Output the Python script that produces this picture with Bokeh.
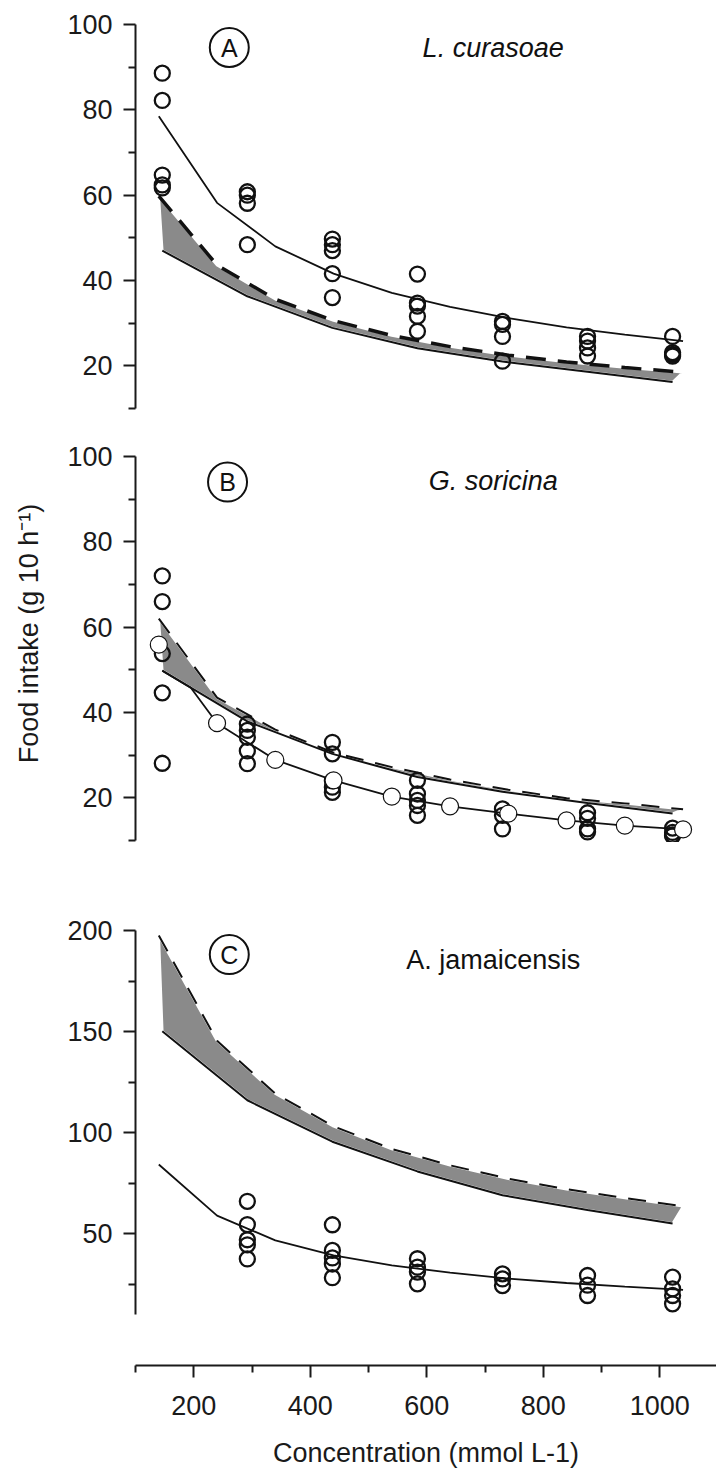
from bokeh.plotting import figure
from bokeh.models import Range1d, FixedTicker, Label
from bokeh.layouts import column
from bokeh.embed import file_html
from bokeh.resources import INLINE

FONT = "Liberation Sans"

# ---------------- data ----------------
conc = [146, 292, 438, 584, 730, 876, 1022]          # measured concentrations
grid_x = [140, 240, 340, 440, 540, 640, 740, 840, 940, 1040]  # curve sample points

# Panel A  (L. curasoae)
a_obs = [[88.6, 82.2, 64.7, 62.4, 61.7],
         [60.8, 60.0, 58.1, 48.4],
         [49.7, 48.4, 47.0, 41.6, 36.0],
         [41.5, 34.7, 34.0, 31.6, 28.1],
         [30.4, 29.7, 26.9, 21.1],
         [26.9, 25.8, 24.2, 22.3],
         [26.9, 23.1, 22.7, 22.3]]
a_fit = [78.5, 58.2, 48.0, 41.6, 37.1, 33.8, 31.2, 29.0, 27.3, 25.8]
a_dash = [59.8, 43.6, 35.6, 30.6, 27.1, 24.5, 22.5, 20.9, 19.6, 18.5]
a_low = [47.0, 36.3, 28.9, 24.1, 21.0, 18.6, 16.2]

# Panel B  (G. soricina)
b_obs = [[72.0, 66.0, 53.8, 44.6, 28.1],
         [37.3, 35.8, 34.2, 31.0, 28.0],
         [33.0, 30.3, 24.0, 22.5, 21.3],
         [24.1, 20.9, 19.4, 18.2, 15.9],
         [17.4, 15.9, 12.7],
         [16.5, 15.2, 12.7, 12.0],
         [12.9, 11.9, 11.3, 11.1]]
b_model = [55.9, 37.5, 28.9, 24.1, 20.3, 18.0, 16.3, 14.7, 13.5, 12.6]
b_fit_x = [146, 195, 240, 340, 440, 540, 640, 740, 840, 940, 1040]
b_fit = [49.8, 45.8, 37.5, 28.9, 24.1, 20.3, 18.0, 16.3, 14.7, 13.5, 12.6]
b_dash = [62.0, 43.5, 36.0, 30.6, 27.2, 24.3, 21.9, 19.9, 18.7, 17.3]
b_low = [49.8, 37.9, 30.3, 24.9, 21.4, 18.8, 16.3]

# Panel C  (A. jamaicensis)
c_obs = [[66.0, 54.5, 47.0, 44.5, 37.5],
         [54.4, 41.7, 38.0, 35.0, 28.2],
         [37.6, 33.4, 31.0, 25.2],
         [30.1, 27.6, 24.3],
         [29.3, 24.5, 19.4],
         [28.5, 22.7, 19.4, 15.3]]
c_obs_x = [292, 438, 584, 730, 876, 1022]
c_fit = [84.2, 58.9, 46.7, 39.3, 34.3, 30.7, 27.8, 25.6, 23.8, 22.2]
c_dash = [197.5, 145.4, 119.3, 103.1, 91.9, 83.8, 77.2, 72.0, 67.6, 63.5]
c_low = [150.2, 116.0, 95.5, 80.8, 69.0, 61.7, 55.0]

species = ["L. curasoae", "G. soricina", "A. jamaicensis"]
letters = ["A", "B", "C"]
y_title = "Food intake (g 10 h\u207b\u00b9)"
x_title = "Concentration (mmol L-1)"

BAND = "#8a8a8a"
INK = "#111111"


def flat(xs, groups):
    ox, oy = [], []
    for x, g in zip(xs, groups):
        for v in g:
            ox.append(x)
            oy.append(v)
    return ox, oy


def style_axis(a, standoff):
    a.axis_line_width = 2
    a.axis_line_color = "#1a1a1a"
    a.major_tick_line_width = 2
    a.minor_tick_line_width = 2
    a.major_tick_line_color = "#1a1a1a"
    a.minor_tick_line_color = "#1a1a1a"
    a.major_tick_out = 12
    a.major_tick_in = 0
    a.minor_tick_out = 7
    a.minor_tick_in = 0
    a.major_label_text_font = FONT
    a.major_label_text_font_size = "27px"
    a.major_label_text_color = "#1a1a1a"
    a.major_label_standoff = standoff
    a.axis_label_text_font = FONT
    a.axis_label_text_font_style = "normal"
    a.axis_label_text_font_size = "27px"
    a.axis_label_text_color = "#1a1a1a"


def panel(height, yr, ticks, minors, bounds, top, bottom, show_x):
    p = figure(width=716, height=height,
               x_range=Range1d(100, 1097.4), y_range=Range1d(*yr),
               output_backend="svg", toolbar_location=None, title=None,
               x_axis_location="below" if show_x else None,
               min_border_left=135, min_border_right=0,
               min_border_top=top, min_border_bottom=bottom)
    p.grid.visible = False
    p.outline_line_color = None
    p.background_fill_color = "white"
    p.border_fill_color = "white"
    ax = p.yaxis[0]
    ax.bounds = bounds
    ax.ticker = FixedTicker(ticks=ticks, minor_ticks=minors)
    style_axis(ax, 11)
    if show_x:
        xa = p.xaxis[0]
        xa.ticker = FixedTicker(ticks=[200, 400, 600, 800, 1000],
                                minor_ticks=[100, 300, 500, 700, 900, 1100])
        style_axis(xa, 18)
    return p


def add_band(p, dash, low):
    p.patch(grid_x + conc[::-1], dash + low[::-1], fill_color=BAND,
            line_color="white", line_width=2.5)
    p.line(conc, low, line_color=INK, line_width=2)


def add_labels(p, i, lx, ly, sp_y, italic=True):
    p.scatter([lx], [ly], marker="circle", size=39, fill_color=None,
              line_color=INK, line_width=2)
    p.add_layout(Label(x=lx, y=ly, text=letters[i], text_font=FONT,
                       text_font_size="25px", text_align="center",
                       text_baseline="middle", text_color=INK))
    p.add_layout(Label(x=714, y=sp_y, text=species[i], text_font=FONT,
                       text_font_size="27px",
                       text_font_style="italic" if italic else "normal",
                       text_align="center", text_baseline="middle",
                       text_color=INK))


# ---------------- Panel A ----------------
pA = panel(424, (6.25, 105.625), [20, 40, 60, 80, 100], [10, 30, 50, 70, 90],
           (10, 100), 0, 0, False)
add_band(pA, a_dash, a_low)
pA.line(grid_x, a_dash, line_color=INK, line_width=3.5, line_dash="20 12")
pA.line(grid_x, a_fit, line_color=INK, line_width=1.8)
ax_, ay_ = flat(conc, a_obs)
pA.scatter(ax_, ay_, marker="circle", size=15, fill_color=None,
           line_color=INK, line_width=2.3)
add_labels(pA, 0, 261, 94.6, 94.6)

# ---------------- Panel B ----------------
pB = panel(418, (9.53, 107.5), [20, 40, 60, 80, 100], [10, 30, 50, 70, 90],
           (10, 100), 0, 0, False)
pB.yaxis[0].axis_label = y_title
pB.yaxis[0].axis_label_standoff = 20
add_band(pB, b_dash, b_low)
pB.line(grid_x, b_dash, line_color=INK, line_width=2, line_dash="18 12")
pB.line(b_fit_x, b_fit, line_color=INK, line_width=1.8)
bx_, by_ = flat(conc, b_obs)
pB.scatter(bx_, by_, marker="circle", size=15, fill_color=None,
           line_color=INK, line_width=2.3)
pB.scatter(grid_x, b_model, marker="circle", size=17, fill_color="white",
           line_color=INK, line_width=1.2)
add_labels(pB, 1, 258, 94.0, 94.2)

# ---------------- Panel C ----------------
pC = panel(630, (-15.23, 224.74), [50, 100, 150, 200], [25, 75, 125, 175],
           (10, 200), 38, 107, True)
pC.xaxis[0].axis_label = x_title
pC.xaxis[0].axis_label_standoff = 20
add_band(pC, c_dash, c_low)
pC.line(grid_x, c_dash, line_color=INK, line_width=2, line_dash="18 12")
pC.line(grid_x, c_fit, line_color=INK, line_width=1.8)
cx_, cy_ = flat(c_obs_x, c_obs)
pC.scatter(cx_, cy_, marker="circle", size=15, fill_color=None,
           line_color=INK, line_width=2.3)
add_labels(pC, 2, 261, 188.1, 185.5, italic=False)

layout = column(pA, pB, pC, spacing=0)
open("out.html", "w").write(file_html(layout, INLINE))
